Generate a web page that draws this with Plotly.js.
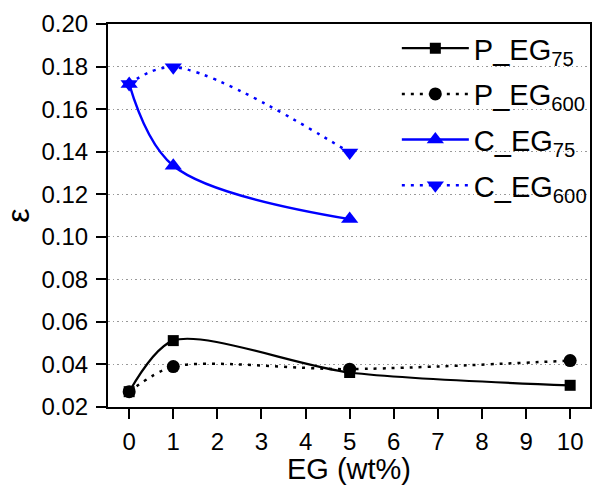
<!DOCTYPE html>
<html>
<head>
<meta charset="utf-8">
<script src="https://cdn.plot.ly/plotly-3.0.1.min.js"></script>
<style>html,body{margin:0;padding:0;background:#fff;}#chart{width:593px;height:485px;}</style>
</head>
<body>
<div id="chart"></div>
<script>
// Data
const xP = [0, 1, 5, 10];
const pEG75 = [0.0272, 0.0512, 0.0362, 0.0302];
const pEG600 = [0.0272, 0.0390, 0.0378, 0.0418];
const xC = [0, 1, 5];
const cEG75 = [0.1718, 0.1334, 0.1083];
const cEG600 = [0.1718, 0.1797, 0.1396];
const seriesNames = ['P_EG<sub>75</sub>', 'P_EG<sub>600</sub>', 'C_EG<sub>75</sub>', 'C_EG<sub>600</sub>'];
const xTicks = [0,1,2,3,4,5,6,7,8,9,10];

const FONT = 'Arial, "Liberation Sans", sans-serif';

const traces = [
  {x: xP, y: pEG75, name: seriesNames[0], legendgroup: 'a', mode: 'lines+markers',
   line: {color: '#000', width: 2.2, shape: 'spline', smoothing: 0.8},
   marker: {symbol: 'square', size: 11, color: '#000'}},
  {x: xP, y: pEG600, name: seriesNames[1], legendgroup: 'b', mode: 'lines+markers',
   line: {color: '#000', width: 2.5, shape: 'spline', smoothing: 0.8, dash: '3px,6px'},
   marker: {symbol: 'circle', size: 13, color: '#000'}},
  {x: xC, y: cEG75, name: seriesNames[2], legendgroup: 'c', mode: 'lines+markers',
   line: {color: '#0000ff', width: 2.5, shape: 'spline', smoothing: 1},
   marker: {symbol: 'triangle-up', size: 15, color: '#0000ff'}},
  {x: xC, y: cEG600, name: seriesNames[3], legendgroup: 'd', mode: 'lines+markers',
   line: {color: '#0000ff', width: 2.5, shape: 'spline', smoothing: 1, dash: '3px,6px'},
   marker: {symbol: 'triangle-down', size: 15, color: '#0000ff'}}
];

const layout = {
  width: 593, height: 485,
  margin: {l: 108, r: 2, t: 24, b: 78, pad: 0},
  paper_bgcolor: '#fff', plot_bgcolor: '#fff',
  font: {family: FONT, color: '#000', size: 24},
  showlegend: true,
  legend: {x: 0.598, y: 1.003, xanchor: 'left', yanchor: 'top',
           bgcolor: 'rgba(0,0,0,0)', font: {family: FONT, size: 29, color: '#000'},
           itemwidth: 67, tracegroupgap: 5},
  xaxis: {
    range: [-0.48, 10.45], tickvals: xTicks, ticktext: xTicks.map(String),
    ticks: 'outside', ticklen: 10, tickwidth: 2, tickcolor: '#000',
    showline: true, linewidth: 2, linecolor: '#000', mirror: true,
    showgrid: false, zeroline: false, ticklabelstandoff: 2,
    tickfont: {family: FONT, size: 24},
    title: {text: 'EG (wt%)', font: {family: FONT, size: 29}, standoff: 6}
  },
  yaxis: {
    range: [0.02, 0.20], dtick: 0.02, tick0: 0.02, tickformat: '.2f',
    ticks: 'outside', ticklen: 10, tickwidth: 2, tickcolor: '#000',
    showline: true, linewidth: 2, linecolor: '#000', mirror: true,
    showgrid: true, gridcolor: '#999999', gridwidth: 1, griddash: '1.5px,3px',
    zeroline: false, ticklabelstandoff: 3,
    tickfont: {family: FONT, size: 24},
    title: {text: 'ε', font: {family: FONT, size: 32}, standoff: 8}
  }
};

Plotly.newPlot('chart', traces, layout, {staticPlot: true, displayModeBar: false});
</script>
</body>
</html>
